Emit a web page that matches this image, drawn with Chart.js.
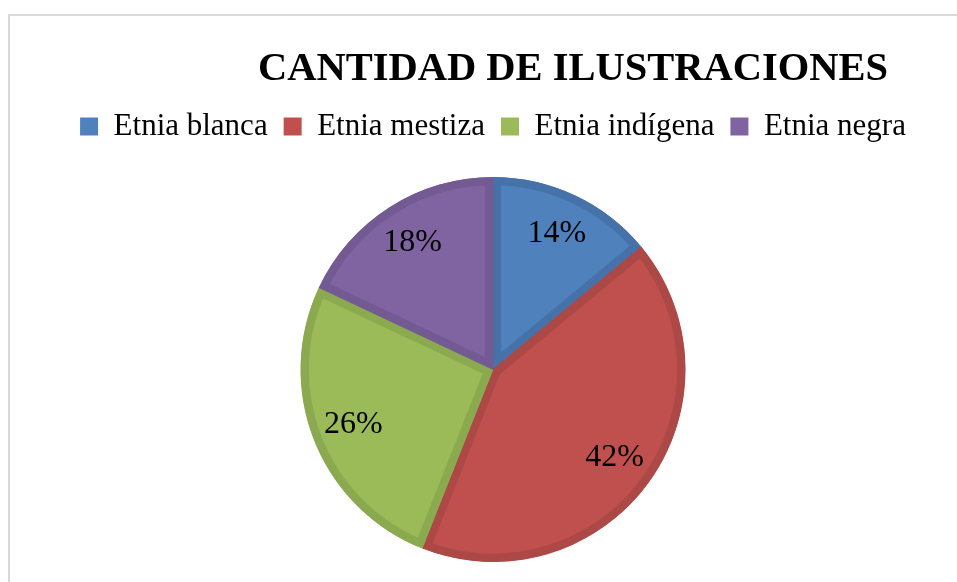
<!DOCTYPE html>
<html>
<head>
<meta charset="utf-8">
<script src="https://cdn.jsdelivr.net/npm/chart.js@4.4.1/dist/chart.umd.min.js"></script>
<style>
html, body { margin: 0; padding: 0; background: #fff; overflow: hidden; }
#frame { position: absolute; left: 8px; top: 14px; width: 1000px; height: 600px;
         border-top: 2px solid #dadada; border-left: 2px solid #dadada; }
#wrap { position: absolute; left: 0; top: 0; width: 984px; height: 582px; }
</style>
</head>
<body>
<div id="frame"></div>
<div id="wrap"><canvas id="pie"></canvas></div>
<script>
const chartTitle = 'CANTIDAD DE ILUSTRACIONES';
const categories = ['Etnia blanca', 'Etnia mestiza', 'Etnia indígena', 'Etnia negra'];
const percentages = [14, 42, 26, 18];
const fillColors = ['#4F81BD', '#C0504D', '#9BBB59', '#8064A2'];
const edgeColors = ['#4672A9', '#AC4845', '#8BA94F', '#735A92'];

const serif = '"Liberation Serif", "Times New Roman", serif';

// title is drawn by hand so it can sit right of centre like the original
const titlePlugin = {
    id: 'titlePlugin',
    afterDraw(chart) {
        const ctx = chart.ctx;
        ctx.save();
        ctx.font = 'bold 40.5px ' + serif;
        ctx.fillStyle = '#000';
        ctx.textAlign = 'center';
        ctx.textBaseline = 'alphabetic';
        ctx.fillText(chartTitle, 573, 80);
        ctx.restore();
    }
};

// percentage labels inside each slice
const sliceLabels = {
    id: 'sliceLabels',
    afterDatasetsDraw(chart) {
        const ctx = chart.ctx;
        const meta = chart.getDatasetMeta(0);
        ctx.save();
        ctx.font = '32px ' + serif;
        ctx.fillStyle = '#000';
        ctx.textAlign = 'center';
        ctx.textBaseline = 'middle';
        meta.data.forEach((arc, i) => {
            const p = arc.getProps(['x', 'y', 'startAngle', 'endAngle', 'outerRadius'], true);
            const mid = (p.startAngle + p.endAngle) / 2;
            const r = p.outerRadius * 0.78;
            ctx.fillText(percentages[i] + '%', p.x + Math.cos(mid) * r, p.y + Math.sin(mid) * r);
        });
        ctx.restore();
    }
};

// extra room under the legend
const legendGap = {
    id: 'legendGap',
    beforeInit(chart) {
        const fit = chart.legend.fit;
        chart.legend.fit = function () {
            fit.call(this);
            this.height += 25;
        };
    }
};

const ctx = document.getElementById('pie').getContext('2d');
new Chart(ctx, {
    type: 'pie',
    data: {
        labels: categories,
        datasets: [{
            data: percentages,
            backgroundColor: fillColors,
            borderColor: edgeColors,
            borderWidth: 8,
            borderAlign: 'inner'
        }]
    },
    options: {
        responsive: true,
        maintainAspectRatio: false,
        animation: false,
        layout: { padding: { top: 95, bottom: 20, left: 6, right: 4 } },
        plugins: {
            tooltip: { enabled: false },
            legend: {
                position: 'top',
                labels: {
                    color: '#000',
                    font: { family: serif, size: 31 },
                    boxWidth: 18,
                    boxHeight: 18,
                    padding: 16,
                    generateLabels(chart) {
                        const items = Chart.overrides.pie.plugins.legend.labels.generateLabels(chart);
                        items.forEach(it => { it.lineWidth = 0; });
                        return items;
                    }
                }
            }
        }
    },
    plugins: [titlePlugin, sliceLabels, legendGap]
});
</script>
</body>
</html>
